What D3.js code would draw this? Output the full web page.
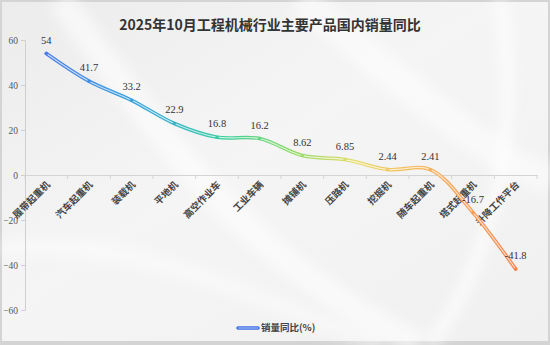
<!DOCTYPE html>
<html>
<head>
<meta charset="utf-8">
<script src="https://cdn.jsdelivr.net/npm/d3@7/dist/d3.min.js"></script>
<style>
  html, body { margin: 0; padding: 0; background: #d6d6d6; }
  svg { display: block; }
</style>
</head>
<body>
<script>
// 2025年10月 各产品国内销量同比 (%)
const categories = ["履带起重机", "汽车起重机", "装载机", "平地机", "高空作业车", "工业车辆",
  "摊铺机", "压路机", "挖掘机", "随车起重机", "塔式起重机", "升降工作平台"];
const yoyValues = [54, 41.7, 33.2, 22.9, 16.8, 16.2, 8.62, 6.85, 2.44, 2.41, -16.7, -41.8];
const yTicks = [-60, -40, -20, 0, 20, 40, 60];
const seriesName = "销量同比(%)";
const titleText = "2025年10月工程机械行业主要产品国内销量同比";

const W = 550, H = 345;
const serif = "'Liberation Serif', 'DejaVu Serif', 'Noto Sans CJK SC', serif";
const cjk = "'Noto Sans CJK SC', 'Liberation Serif', sans-serif";

const svg = d3.select("body").append("svg").attr("width", W).attr("height", H);
const defs = svg.append("defs");

// panel background
const bg = defs.append("linearGradient").attr("id", "bg").attr("x1", 0).attr("y1", 0).attr("x2", 1).attr("y2", 1);
bg.append("stop").attr("offset", "0%").attr("stop-color", "#ececec");
bg.append("stop").attr("offset", "45%").attr("stop-color", "#f5f5f5");
bg.append("stop").attr("offset", "100%").attr("stop-color", "#f0f0f0");
defs.append("filter").attr("id", "soft").append("feGaussianBlur").attr("stdDeviation", 6);

svg.append("rect").attr("x", 0).attr("y", 0).attr("width", W).attr("height", H).attr("fill", "#d4d4d4");
svg.append("rect").attr("x", 2).attr("y", 2).attr("width", W - 4).attr("height", H - 6).attr("fill", "url(#bg)");

const sheen = svg.append("g").attr("filter", "url(#soft)").attr("fill", "none").attr("stroke", "#ffffff");
sheen.append("path").attr("d", "M60,0 C150,120 240,260 420,345").attr("stroke-width", 26).attr("opacity", 0.55);
sheen.append("path").attr("d", "M300,0 C380,60 470,150 550,180").attr("stroke-width", 30).attr("opacity", 0.5);
sheen.append("path").attr("d", "M500,0 C520,120 500,250 430,345").attr("stroke-width", 14).attr("opacity", 0.6);
sheen.append("path").attr("d", "M0,250 C120,230 260,300 380,345").attr("stroke-width", 18).attr("opacity", 0.4);

// title
svg.append("text").attr("x", 270).attr("y", 30).attr("text-anchor", "middle")
  .attr("font-family", cjk).attr("font-weight", "bold").attr("font-size", 14)
  .attr("fill", "#333").text(titleText);

// scales
const x = d3.scaleBand().domain(categories).range([25, 537]);
const y = d3.scaleLinear().domain([-60, 60]).range([310, 40]);
const cx = d => x(d) + x.bandwidth() / 2;

// y axis
const yAxis = svg.append("g").attr("transform", "translate(25,0)")
  .call(d3.axisLeft(y).tickValues(yTicks).tickSize(4).tickPadding(3));
yAxis.select(".domain").attr("stroke", "#cfcfcf");
yAxis.selectAll(".tick line").attr("stroke", "#cfcfcf");
yAxis.selectAll(".tick text").attr("font-family", serif).attr("font-size", 9.5).attr("fill", "#555");

// x axis at zero
const xAxis = svg.append("g").attr("transform", `translate(0,${y(0)})`)
  .call(d3.axisBottom(x).tickSize(0).tickFormat(""));
xAxis.select(".domain").attr("stroke", "#d4d4d4");
svg.append("g").selectAll("line").data(categories.concat([null])).join("line")
  .attr("x1", (d, i) => 25 + i * x.step()).attr("x2", (d, i) => 25 + i * x.step())
  .attr("y1", y(0)).attr("y2", y(0) + 4).attr("stroke", "#d4d4d4");

// rotated category labels
svg.append("g").selectAll("text").data(categories).join("text")
  .attr("transform", d => `translate(${cx(d) + 2},${y(0) + 8}) rotate(-45)`)
  .attr("text-anchor", "end").attr("dy", "0.35em")
  .attr("font-family", cjk).attr("font-weight", "bold").attr("font-size", 9.5)
  .attr("fill", "#444").text(d => d);

// series gradient
const grad = defs.append("linearGradient").attr("id", "lineGrad")
  .attr("gradientUnits", "userSpaceOnUse").attr("x1", cx(categories[0])).attr("x2", cx(categories[11]))
  .attr("y1", 0).attr("y2", 0);
[["0%", "#4a7cea"], ["22%", "#35a8d8"], ["38%", "#3ccf9e"], ["52%", "#8fd96a"],
 ["66%", "#e8dc6e"], ["80%", "#f7b45a"], ["100%", "#f7844e"]]
  .forEach(([o, c]) => grad.append("stop").attr("offset", o).attr("stop-color", c));

const pts = categories.map((c, i) => [cx(c), y(yoyValues[i])]);
const line = d3.line().curve(d3.curveCatmullRom.alpha(0.5));

svg.append("path").attr("d", line(pts)).attr("fill", "none")
  .attr("stroke", "url(#lineGrad)").attr("stroke-width", 3.6).attr("stroke-linecap", "round");
svg.append("path").attr("d", line(pts)).attr("fill", "none")
  .attr("stroke", "#ffffff").attr("stroke-opacity", 0.7).attr("stroke-width", 1.2).attr("stroke-linecap", "round");

svg.append("g").selectAll("circle").data(pts).join("circle")
  .attr("cx", d => d[0]).attr("cy", d => d[1]).attr("r", 1.7).attr("fill", "url(#lineGrad)");

// value labels
svg.append("g").selectAll("text").data(categories).join("text")
  .attr("x", d => cx(d)).attr("y", (d, i) => y(yoyValues[i]) - 10)
  .attr("text-anchor", "middle")
  .attr("font-family", serif).attr("font-size", 10.5).attr("fill", "#333")
  .text((d, i) => yoyValues[i]);

// legend
const lg = svg.append("g").attr("transform", "translate(238,328)");
lg.append("line").attr("x1", 0).attr("x2", 20).attr("y1", 0).attr("y2", 0)
  .attr("stroke", "url(#legendGrad)").attr("stroke-width", 3.5).attr("stroke-linecap", "round");
const lgGrad = defs.append("linearGradient").attr("id", "legendGrad")
  .attr("gradientUnits", "userSpaceOnUse").attr("x1", 238).attr("x2", 258).attr("y1", 0).attr("y2", 0);
[["0%", "#3d6fe6"], ["30%", "#3ccf9e"], ["55%", "#8fd96a"], ["75%", "#e8dc6e"], ["100%", "#f7844e"]]
  .forEach(([o, c]) => lgGrad.append("stop").attr("offset", o).attr("stop-color", c));
lg.append("line").attr("x1", 0).attr("x2", 20).attr("y1", 0).attr("y2", 0)
  .attr("stroke", "#fff").attr("stroke-opacity", 0.6).attr("stroke-width", 1);
lg.append("text").attr("x", 23).attr("y", 0).attr("dy", "0.35em")
  .attr("font-family", cjk).attr("font-weight", "bold").attr("font-size", 9.5)
  .attr("fill", "#444").text(seriesName);
</script>
</body>
</html>
